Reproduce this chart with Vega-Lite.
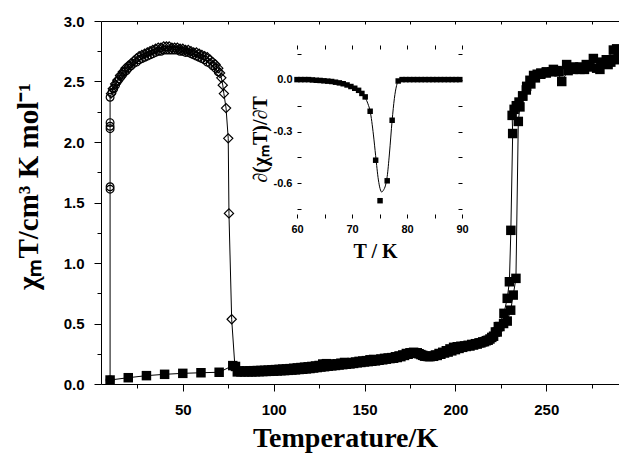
{
  "$schema": "https://vega.github.io/schema/vega-lite/v6.json",
  "width": 518,
  "height": 363,
  "autosize": {"type": "none"},
  "padding": {"left": 101, "top": 21, "right": 0, "bottom": 69},
  "background": "white",
  "config": {"view": {"stroke": null}, "axis": {"grid": false}},
  "datasets": {
    "therm": [
      {"T":10,"v":0.033,"b":"h"},{"T":20,"v":0.052,"b":"h"},{"T":30,"v":0.069,"b":"h"},{"T":40,"v":0.080,"b":"h"},{"T":50,"v":0.088,"b":"h"},{"T":60,"v":0.093,"b":"h"},{"T":70,"v":0.097,"b":"h"},{"T":77.5,"v":0.152,"b":"h"},{"T":79,"v":0.145,"b":"h"},
      {"T":81,"v":0.108,"b":"h"},{"T":83,"v":0.107,"b":"h"},{"T":85,"v":0.108,"b":"h"},{"T":87,"v":0.109,"b":"h"},{"T":89,"v":0.11,"b":"h"},{"T":91,"v":0.111,"b":"h"},{"T":93,"v":0.112,"b":"h"},{"T":95,"v":0.113,"b":"h"},{"T":97,"v":0.115,"b":"h"},{"T":99,"v":0.117,"b":"h"},
      {"T":101,"v":0.119,"b":"h"},{"T":103,"v":0.121,"b":"h"},{"T":105,"v":0.123,"b":"h"},{"T":107,"v":0.125,"b":"h"},{"T":109,"v":0.127,"b":"h"},{"T":111,"v":0.13,"b":"h"},{"T":113,"v":0.133,"b":"h"},{"T":115,"v":0.136,"b":"h"},{"T":117,"v":0.139,"b":"h"},{"T":119,"v":0.142,"b":"h"},
      {"T":121,"v":0.145,"b":"h"},{"T":123,"v":0.149,"b":"h"},{"T":125,"v":0.153,"b":"h"},{"T":127,"v":0.165,"b":"h"},{"T":129,"v":0.168,"b":"h"},{"T":131,"v":0.165,"b":"h"},{"T":133,"v":0.162,"b":"h"},{"T":135,"v":0.167,"b":"h"},{"T":137,"v":0.172,"b":"h"},{"T":139,"v":0.178,"b":"h"},
      {"T":141,"v":0.174,"b":"h"},{"T":143,"v":0.177,"b":"h"},{"T":145,"v":0.182,"b":"h"},{"T":147,"v":0.187,"b":"h"},{"T":149,"v":0.19,"b":"h"},{"T":151,"v":0.193,"b":"h"},{"T":153,"v":0.2,"b":"h"},{"T":155,"v":0.203,"b":"h"},{"T":157,"v":0.2,"b":"h"},{"T":159,"v":0.207,"b":"h"},
      {"T":161,"v":0.212,"b":"h"},{"T":163,"v":0.215,"b":"h"},{"T":165,"v":0.218,"b":"h"},{"T":167,"v":0.225,"b":"h"},{"T":169,"v":0.232,"b":"h"},{"T":171,"v":0.24,"b":"h"},{"T":173,"v":0.252,"b":"h"},{"T":175,"v":0.258,"b":"h"},{"T":177,"v":0.262,"b":"h"},{"T":179,"v":0.258,"b":"h"},
      {"T":181,"v":0.243,"b":"h"},{"T":183,"v":0.23,"b":"h"},{"T":185,"v":0.227,"b":"h"},{"T":187,"v":0.23,"b":"h"},{"T":189,"v":0.24,"b":"h"},{"T":191,"v":0.252,"b":"h"},{"T":193,"v":0.262,"b":"h"},{"T":195,"v":0.275,"b":"h"},{"T":197,"v":0.29,"b":"h"},{"T":199,"v":0.303,"b":"h"},
      {"T":201,"v":0.308,"b":"h"},{"T":203,"v":0.312,"b":"h"},{"T":205,"v":0.315,"b":"h"},{"T":207,"v":0.32,"b":"h"},{"T":209,"v":0.327,"b":"h"},{"T":211,"v":0.333,"b":"h"},{"T":213,"v":0.34,"b":"h"},{"T":215,"v":0.348,"b":"h"},{"T":217,"v":0.358,"b":"h"},{"T":219,"v":0.372,"b":"h"},
      {"T":221,"v":0.395,"b":"h"},{"T":223,"v":0.43,"b":"h"},{"T":224.5,"v":0.475,"b":"h"},{"T":226.5,"v":0.5,"b":"h"},{"T":228.5,"v":0.52,"b":"h"},{"T":230.4,"v":0.61,"b":"h"},{"T":231.8,"v":0.735,"b":"h"},{"T":233.3,"v":0.873,"b":"h"},{"T":234.6,"v":2.17,"b":"h"},{"T":235.5,"v":2.29,"b":"h"},
      {"T":237,"v":2.38,"b":"h"},{"T":239.2,"v":2.46,"b":"h"},{"T":241,"v":2.51,"b":"h"},{"T":243,"v":2.55,"b":"h"},{"T":245,"v":2.56,"b":"h"},{"T":247,"v":2.57,"b":"h"},{"T":250,"v":2.58,"b":"h"},{"T":253.9,"v":2.6,"b":"h"},{"T":257,"v":2.58,"b":"h"},{"T":261.2,"v":2.64,"b":"h"},
      {"T":265,"v":2.62,"b":"h"},{"T":268.5,"v":2.62,"b":"h"},{"T":272,"v":2.64,"b":"h"},{"T":275.9,"v":2.69,"b":"h"},{"T":280,"v":2.66,"b":"h"},{"T":283,"v":2.68,"b":"h"},{"T":286.9,"v":2.76,"b":"h"},{"T":288.7,"v":2.77,"b":"h"},
      {"T":289.5,"v":2.74,"b":"c"},{"T":287.5,"v":2.68,"b":"c"},{"T":285.5,"v":2.66,"b":"c"},{"T":284,"v":2.64,"b":"c"},{"T":281.4,"v":2.65,"b":"c"},{"T":279.5,"v":2.6,"b":"c"},{"T":277.7,"v":2.61,"b":"c"},{"T":274,"v":2.62,"b":"c"},{"T":271,"v":2.6,"b":"c"},{"T":268.5,"v":2.6,"b":"c"},
      {"T":265,"v":2.6,"b":"c"},{"T":262,"v":2.59,"b":"c"},{"T":258.5,"v":2.5,"b":"c"},{"T":256,"v":2.59,"b":"c"},{"T":253,"v":2.58,"b":"c"},{"T":250,"v":2.57,"b":"c"},{"T":247,"v":2.56,"b":"c"},{"T":244,"v":2.53,"b":"c"},{"T":241.5,"v":2.48,"b":"c"},{"T":239,"v":2.43,"b":"c"},
      {"T":237,"v":2.38,"b":"c"},{"T":235,"v":2.33,"b":"c"},{"T":233.5,"v":2.3,"b":"c"},{"T":232.3,"v":2.27,"b":"c"},{"T":231.2,"v":2.22,"b":"c"},{"T":231.5,"v":2.07,"b":"c"},{"T":230.5,"v":1.27,"b":"c"},{"T":229.7,"v":0.845,"b":"c"},{"T":228.5,"v":0.708,"b":"c"},{"T":226.7,"v":0.584,"b":"c"},
      {"T":223.6,"v":0.474,"b":"c"},{"T":222,"v":0.43,"b":"c"},{"T":220,"v":0.385,"b":"c"},{"T":218,"v":0.362,"b":"c"},{"T":216,"v":0.35,"b":"c"},{"T":214,"v":0.34,"b":"c"},{"T":212,"v":0.33,"b":"c"},{"T":210,"v":0.322,"b":"c"},{"T":208,"v":0.314,"b":"c"},{"T":206,"v":0.31,"b":"c"},
      {"T":204,"v":0.303,"b":"c"},{"T":202,"v":0.294,"b":"c"},{"T":200,"v":0.284,"b":"c"},{"T":198,"v":0.274,"b":"c"},{"T":196,"v":0.264,"b":"c"},{"T":194,"v":0.256,"b":"c"},{"T":192,"v":0.246,"b":"c"},{"T":190,"v":0.236,"b":"c"},{"T":188,"v":0.229,"b":"c"},{"T":186,"v":0.226,"b":"c"},
      {"T":184,"v":0.229,"b":"c"},{"T":182,"v":0.237,"b":"c"},{"T":180,"v":0.25,"b":"c"},{"T":178,"v":0.256,"b":"c"},{"T":176,"v":0.253,"b":"c"},{"T":174,"v":0.246,"b":"c"},{"T":172,"v":0.236,"b":"c"},{"T":170,"v":0.226,"b":"c"},{"T":168,"v":0.219,"b":"c"},{"T":166,"v":0.213,"b":"c"},
      {"T":164,"v":0.21,"b":"c"},{"T":162,"v":0.205,"b":"c"},{"T":160,"v":0.2,"b":"c"},{"T":158,"v":0.196,"b":"c"},{"T":156,"v":0.191,"b":"c"},{"T":154,"v":0.188,"b":"c"},{"T":152,"v":0.185,"b":"c"},{"T":150,"v":0.182,"b":"c"},{"T":148,"v":0.178,"b":"c"},{"T":146,"v":0.175,"b":"c"},
      {"T":144,"v":0.17,"b":"c"},{"T":142,"v":0.166,"b":"c"},{"T":140,"v":0.163,"b":"c"},{"T":138,"v":0.16,"b":"c"},{"T":136,"v":0.157,"b":"c"},{"T":134,"v":0.153,"b":"c"},{"T":132,"v":0.15,"b":"c"},{"T":130,"v":0.147,"b":"c"},{"T":128,"v":0.143,"b":"c"},{"T":126,"v":0.14,"b":"c"},
      {"T":124,"v":0.136,"b":"c"},{"T":122,"v":0.132,"b":"c"},{"T":120,"v":0.128,"b":"c"},{"T":118,"v":0.125,"b":"c"},{"T":116,"v":0.122,"b":"c"},{"T":114,"v":0.12,"b":"c"},{"T":112,"v":0.117,"b":"c"},{"T":110,"v":0.115,"b":"c"},{"T":108,"v":0.113,"b":"c"},{"T":106,"v":0.111,"b":"c"},
      {"T":104,"v":0.11,"b":"c"},{"T":102,"v":0.108,"b":"c"},{"T":100,"v":0.106,"b":"c"},{"T":98,"v":0.105,"b":"c"},{"T":96,"v":0.104,"b":"c"},{"T":94,"v":0.103,"b":"c"},{"T":92,"v":0.102,"b":"c"},{"T":90,"v":0.101,"b":"c"},{"T":88,"v":0.1,"b":"c"},{"T":86,"v":0.1,"b":"c"},
      {"T":84,"v":0.1,"b":"c"},{"T":82,"v":0.1,"b":"c"},{"T":80,"v":0.1,"b":"c"}
    ],
    "liesst": [
      {"T":10,"v":0.033,"s":"c"},{"T":10,"v":1.61,"s":"c"},{"T":10,"v":1.63,"s":"c"},{"T":10,"v":2.11,"s":"c"},{"T":10,"v":2.13,"s":"c"},{"T":10,"v":2.16,"s":"c"},{"T":10,"v":2.37,"s":"c"},
      {"T":11,"v":2.41,"s":"c"},{"T":12,"v":2.44,"s":"c"},{"T":13,"v":2.47,"s":"c"},{"T":14,"v":2.5,"s":"c"},{"T":15,"v":2.52,"s":"c"},{"T":16,"v":2.54,"s":"c"},{"T":17,"v":2.56,"s":"c"},{"T":18,"v":2.58,"s":"c"},{"T":19,"v":2.59,"s":"c"},{"T":20,"v":2.61,"s":"c"},
      {"T":21.5,"v":2.63,"s":"c"},{"T":23,"v":2.65,"s":"c"},{"T":24.5,"v":2.66,"s":"c"},{"T":26,"v":2.68,"s":"c"},{"T":27.5,"v":2.69,"s":"c"},{"T":29,"v":2.7,"s":"c"},{"T":30.5,"v":2.71,"s":"c"},{"T":32,"v":2.72,"s":"c"},{"T":33.5,"v":2.73,"s":"c"},{"T":35,"v":2.74,"s":"c"},
      {"T":36.5,"v":2.75,"s":"c"},{"T":38,"v":2.75,"s":"c"},{"T":39.5,"v":2.76,"s":"c"},{"T":41,"v":2.76,"s":"c"},{"T":42.5,"v":2.76,"s":"c"},{"T":44,"v":2.76,"s":"c"},{"T":45.5,"v":2.76,"s":"c"},{"T":47,"v":2.76,"s":"c"},{"T":48.5,"v":2.75,"s":"c"},{"T":50,"v":2.75,"s":"c"},
      {"T":51.5,"v":2.74,"s":"c"},{"T":53,"v":2.74,"s":"c"},{"T":54.5,"v":2.73,"s":"c"},{"T":56,"v":2.72,"s":"c"},{"T":57.5,"v":2.71,"s":"c"},{"T":59,"v":2.7,"s":"c"},{"T":60.5,"v":2.69,"s":"c"},{"T":62,"v":2.68,"s":"c"},{"T":63.5,"v":2.66,"s":"c"},{"T":65,"v":2.65,"s":"c"},
      {"T":66.5,"v":2.63,"s":"c"},{"T":68,"v":2.61,"s":"c"},{"T":69.5,"v":2.58,"s":"c"},
      {"T":10.5,"v":2.4,"s":"d"},{"T":11.5,"v":2.44,"s":"d"},{"T":12.8,"v":2.48,"s":"d"},{"T":14,"v":2.51,"s":"d"},{"T":15.5,"v":2.55,"s":"d"},{"T":17,"v":2.58,"s":"d"},{"T":18.5,"v":2.61,"s":"d"},{"T":20,"v":2.63,"s":"d"},{"T":21.5,"v":2.65,"s":"d"},{"T":23,"v":2.67,"s":"d"},
      {"T":24.5,"v":2.69,"s":"d"},{"T":26,"v":2.71,"s":"d"},{"T":27.5,"v":2.72,"s":"d"},{"T":29,"v":2.73,"s":"d"},{"T":30.5,"v":2.74,"s":"d"},{"T":32,"v":2.75,"s":"d"},{"T":33.5,"v":2.76,"s":"d"},{"T":35,"v":2.77,"s":"d"},{"T":36.5,"v":2.78,"s":"d"},{"T":38,"v":2.78,"s":"d"},
      {"T":39.5,"v":2.79,"s":"d"},{"T":41,"v":2.79,"s":"d"},{"T":42.5,"v":2.79,"s":"d"},{"T":44,"v":2.78,"s":"d"},{"T":45.5,"v":2.78,"s":"d"},{"T":47,"v":2.78,"s":"d"},{"T":48.5,"v":2.77,"s":"d"},{"T":50,"v":2.77,"s":"d"},{"T":51.5,"v":2.76,"s":"d"},{"T":53,"v":2.76,"s":"d"},
      {"T":54.5,"v":2.75,"s":"d"},{"T":56,"v":2.74,"s":"d"},{"T":57.5,"v":2.74,"s":"d"},{"T":59,"v":2.73,"s":"d"},{"T":60.5,"v":2.72,"s":"d"},{"T":62,"v":2.71,"s":"d"},{"T":63.5,"v":2.7,"s":"d"},{"T":65,"v":2.68,"s":"d"},{"T":66.5,"v":2.66,"s":"d"},{"T":68,"v":2.64,"s":"d"},
      {"T":69.5,"v":2.61,"s":"d"},{"T":70.5,"v":2.57,"s":"d"},{"T":71.2,"v":2.53,"s":"d"},{"T":72,"v":2.47,"s":"d"},{"T":72.6,"v":2.4,"s":"d"},{"T":73.8,"v":2.28,"s":"d"},{"T":75,"v":2.03,"s":"d"},{"T":75.4,"v":1.41,"s":"d"},{"T":76.9,"v":0.535,"s":"d"},{"T":78.7,"v":0.14,"s":"d"}
    ],
    "deriv": [
      {"T":60,"v":0},{"T":60.7,"v":0},{"T":61.4,"v":0},{"T":62.1,"v":0},{"T":62.8,"v":-0.002},{"T":63.5,"v":-0.004},{"T":64.2,"v":-0.005},{"T":64.9,"v":-0.007},{"T":65.6,"v":-0.009},{"T":66.3,"v":-0.011},
      {"T":67,"v":-0.015},{"T":67.7,"v":-0.019},{"T":68.4,"v":-0.024},{"T":69.1,"v":-0.031},{"T":69.8,"v":-0.04},{"T":70.5,"v":-0.05},{"T":71.2,"v":-0.062},{"T":71.8,"v":-0.08},{"T":72.4,"v":-0.1},{"T":73.3,"v":-0.183},
      {"T":74.3,"v":-0.466},{"T":75.1,"v":-0.7},{"T":76.4,"v":-0.585},{"T":77.3,"v":-0.235},{"T":78.4,"v":-0.008},{"T":79.1,"v":0},{"T":79.8,"v":0},{"T":80.5,"v":0},{"T":81.2,"v":0},{"T":81.9,"v":0},
      {"T":82.6,"v":0},{"T":83.3,"v":0},{"T":84,"v":0},{"T":84.7,"v":0},{"T":85.4,"v":0},{"T":86.1,"v":0},{"T":86.8,"v":0},{"T":87.5,"v":0},{"T":88.2,"v":0},{"T":88.9,"v":0},{"T":89.6,"v":0}
    ],
    "fit": [
      {"T":60,"v":0},{"T":62,"v":-0.001},{"T":64,"v":-0.004},{"T":66,"v":-0.01},{"T":68,"v":-0.02},{"T":69,"v":-0.028},{"T":70,"v":-0.04},{"T":71,"v":-0.058},{"T":71.8,"v":-0.08},{"T":72.4,"v":-0.105},
      {"T":72.9,"v":-0.14},{"T":73.3,"v":-0.183},{"T":73.9,"v":-0.32},{"T":74.3,"v":-0.44},{"T":74.8,"v":-0.58},{"T":75.1,"v":-0.63},{"T":75.4,"v":-0.65},{"T":75.7,"v":-0.64},{"T":76.1,"v":-0.61},{"T":76.4,"v":-0.56},
      {"T":76.8,"v":-0.43},{"T":77.3,"v":-0.235},{"T":77.7,"v":-0.11},{"T":78.1,"v":-0.035},{"T":78.5,"v":-0.005},{"T":79,"v":0},{"T":80,"v":0},{"T":90,"v":0}
    ]
  },
  "layer": [
    {
      "encoding": {
        "x": {"field": "T", "type": "quantitative",
          "scale": {"domain": [5, 290], "nice": false, "zero": false},
          "axis": {"orient": "bottom", "values": [25,50,75,100,125,150,175,200,225,250,275],
            "labelExpr": "datum.value % 50 === 0 ? datum.label : ''",
            "tickSize": {"condition": {"test": "datum.value % 50 === 0", "value": 7}, "value": 4},
            "tickColor": "black", "tickWidth": 1, "domainColor": "black", "domainWidth": 1,
            "labelFont": "Liberation Sans", "labelFontWeight": "bold", "labelFontSize": 15, "labelColor": "black",
            "labelPadding": 11, "labelFlush": false, "labelOverlap": false, "grid": false,
            "title": "Temperature/K", "titleFont": "Liberation Serif", "titleFontWeight": "bold", "titleFontSize": 28,
            "titleColor": "black", "titleX": 244, "titleY": 62, "titleBaseline": "alphabetic", "titleAlign": "center"}},
        "y": {"field": "v", "type": "quantitative",
          "scale": {"domain": [0, 3], "nice": false, "zero": false},
          "axis": {"orient": "left", "values": [0,0.25,0.5,0.75,1,1.25,1.5,1.75,2,2.25,2.5,2.75,3],
            "labelExpr": "(datum.value*2) % 1 === 0 ? format(datum.value, '.1f') : ''",
            "tickSize": {"condition": {"test": "(datum.value*2) % 1 === 0", "value": 7}, "value": 4},
            "tickColor": "black", "tickWidth": 1, "domainColor": "black", "domainWidth": 1,
            "labelFont": "Liberation Sans", "labelFontWeight": "bold", "labelFontSize": 15, "labelColor": "black",
            "labelPadding": 10, "labelFlush": false, "labelOverlap": false, "grid": false,
            "title": "χₘT/cm³ K mol⁻¹", "titleFont": "Liberation Serif", "titleFontWeight": "bold", "titleFontSize": 29,
            "titleColor": "black", "titleX": -64, "titleY": 165, "titleBaseline": "alphabetic", "titleAlign": "center", "titleAngle": 270}}
      },
      "layer": [
        {"data": {"name": "therm"}, "mark": {"type": "line", "color": "black", "strokeWidth": 1}, "encoding": {"detail": {"field": "b"}, "order": {"value": null}}},
        {"data": {"name": "therm"}, "mark": {"type": "point", "shape": "square", "filled": true, "size": 90, "color": "black", "opacity": 1}},
        {"data": {"name": "liesst"}, "mark": {"type": "line", "color": "black", "strokeWidth": 1}, "encoding": {"detail": {"field": "s"}, "order": {"value": null}}},
        {"data": {"name": "liesst"}, "transform": [{"filter": "datum.s === 'c'"}], "mark": {"type": "point", "shape": "circle", "filled": false, "size": 60, "color": "black", "strokeWidth": 1.2, "opacity": 1}},
        {"data": {"name": "liesst"}, "transform": [{"filter": "datum.s === 'd'"}], "mark": {"type": "point", "shape": "diamond", "filled": false, "size": 85, "color": "black", "strokeWidth": 1.2, "opacity": 1}}
      ]
    },
    {
      "data": {"values": [{}]},
      "mark": {"type": "rule", "opacity": 0},
      "encoding": {
        "x": {"datum": 100, "type": "quantitative",
          "scale": {"domain": [5, 290], "nice": false, "zero": false},
          "axis": {"orient": "top", "values": [25,50,75,100,125,150,175,200,225,250,275], "labels": false, "title": null,
            "tickSize": -3, "tickColor": "black", "domainColor": "black", "grid": false}}
      }
    },
    {
      "encoding": {
        "x": {"field": "T", "type": "quantitative",
          "scale": {"domain": [60, 90], "range": [196, 361], "nice": false, "zero": false},
          "axis": {"orient": "bottom", "offset": -166, "values": [60,65,70,75,80,85,90],
            "labelExpr": "datum.value % 10 === 0 ? datum.label : ''", "domain": false,
            "tickSize": -4, "tickColor": "black",
            "labelFont": "Liberation Sans", "labelFontWeight": "bold", "labelFontSize": 11, "labelColor": "black",
            "labelPadding": 9, "labelFlush": false, "labelOverlap": false, "grid": false,
            "title": "T / K", "titleFont": "Liberation Serif", "titleFontWeight": "bold", "titleFontSize": 20, "titleColor": "black",
            "titleX": 274, "titleY": 39, "titleBaseline": "alphabetic", "titleAlign": "center"}},
        "y": {"field": "v", "type": "quantitative",
          "scale": {"domain": [-0.8, 0.2], "range": [197, 24], "nice": false, "zero": false},
          "axis": {"orient": "left", "offset": -196, "values": [-0.75,-0.6,-0.45,-0.3,-0.15,0,0.15],
            "labelExpr": "abs((datum.value*10) % 3) < 0.01 ? replace(format(datum.value, '.1f'), '\u2212', '-') : ''",
            "domain": false, "tickSize": -4, "tickColor": "black",
            "labelFont": "Liberation Sans", "labelFontWeight": "bold", "labelFontSize": 11, "labelColor": "black",
            "labelPadding": 9, "labelFlush": false, "labelOverlap": false, "grid": false,
            "title": "∂(χₘT)/∂T", "titleFont": "Liberation Serif", "titleFontWeight": "bold", "titleFontSize": 20, "titleColor": "black",
            "titleX": -31, "titleY": 118, "titleBaseline": "alphabetic", "titleAlign": "center", "titleAngle": 270}}
      },
      "layer": [
        {"data": {"values": [{}]}, "mark": {"type": "rect", "fill": "white", "stroke": "black", "strokeWidth": 1},
          "encoding": {"x": {"datum": 60}, "x2": {"datum": 90}, "y": {"datum": -0.8}, "y2": {"datum": 0.2}}},
        {"data": {"values": [{}]}, "mark": {"type": "rule", "strokeDash": [1.5, 1.5], "color": "black", "strokeWidth": 1},
          "encoding": {"x": {"datum": 75.7}, "y": {"datum": 0.054}, "y2": {"datum": -0.8}}},
        {"data": {"name": "fit"}, "mark": {"type": "line", "interpolate": "monotone", "color": "black", "strokeWidth": 1}},
        {"data": {"name": "deriv"}, "mark": {"type": "point", "shape": "square", "filled": true, "size": 30, "color": "black", "opacity": 1}},
        {"data": {"values": [{}]}, "mark": {"type": "text", "text": "T(LIESST) = 75 K", "font": "Liberation Sans", "fontWeight": "bold", "fontSize": 13, "color": "black"},
          "encoding": {"x": {"datum": 74.5}, "y": {"datum": 0.126}}}
      ]
    },
    {
      "data": {"values": [{}]},
      "mark": {"type": "point", "opacity": 0},
      "encoding": {
        "x": {"datum": 75, "type": "quantitative",
          "scale": {"domain": [60, 90], "range": [196, 361], "nice": false, "zero": false},
          "axis": {"orient": "top", "offset": -24, "values": [60,65,70,75,80,85,90], "labels": false, "domain": false, "title": null,
            "tickSize": -4, "tickColor": "black", "grid": false}},
        "y": {"datum": -0.3, "type": "quantitative",
          "scale": {"domain": [-0.8, 0.2], "range": [197, 24], "nice": false, "zero": false},
          "axis": {"orient": "right", "offset": -157, "values": [-0.75,-0.6,-0.45,-0.3,-0.15,0,0.15], "labels": false, "domain": false, "title": null,
            "tickSize": -4, "tickColor": "black", "grid": false}}
      }
    }
  ],
  "resolve": {"scale": {"x": "independent", "y": "independent"}, "axis": {"x": "independent", "y": "independent"}}
}
